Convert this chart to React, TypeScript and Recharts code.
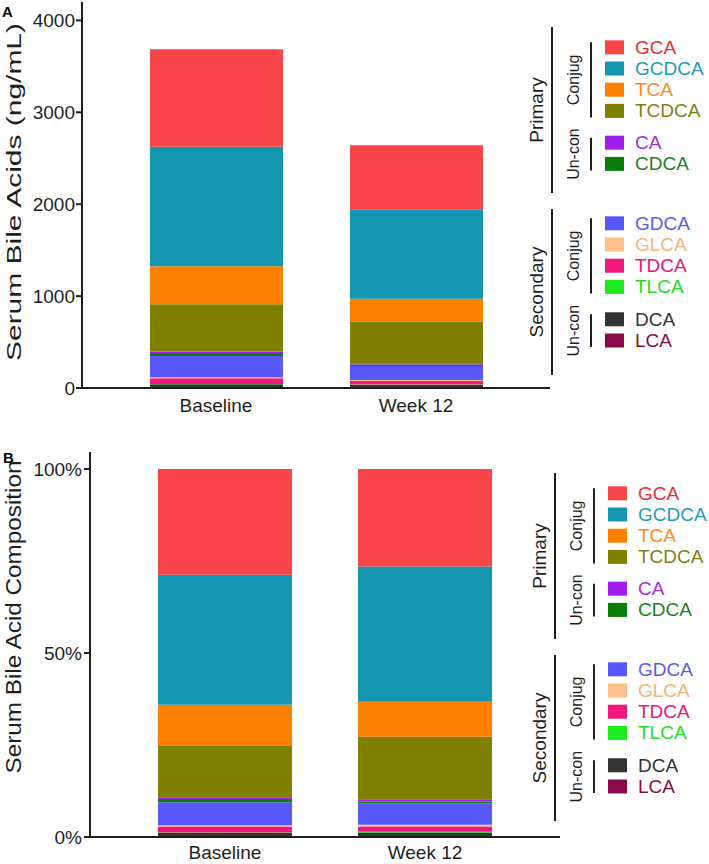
import React from 'react';
import { BarChart, Bar, XAxis, YAxis } from 'recharts';

// ---- data (ng/mL) ----
const categories = ['Baseline', 'Week 12'];
const GCA = [1060, 700];
const GCDCA = [1300, 970];
const TCA = [415, 250];
const TCDCA = [512, 450];
const CA = [18, 15];
const CDCA = [32, 15];
const GDCA = [230, 152];
const GLCA = [12, 13];
const TDCA = [62, 37];
const TLCA = [3, 5];
const DCA = [36, 28];
const LCA = [5, 5];

const absTicks = [0, 1000, 2000, 3000, 4000];
const pctTicks = [0, 0.5, 1];

// legend order (top to bottom), stacked bottom-up in reverse
const series = [
  { name: 'GCA', values: GCA, fill: '#F8454A', text: '#EE2A2F' },
  { name: 'GCDCA', values: GCDCA, fill: '#1496B1', text: '#1A9DBA' },
  { name: 'TCA', values: TCA, fill: '#FF8000', text: '#FF8A1A' },
  { name: 'TCDCA', values: TCDCA, fill: '#7F7F00', text: '#7F7F14' },
  { name: 'CA', values: CA, fill: '#A21EEB', text: '#A52BE0' },
  { name: 'CDCA', values: CDCA, fill: '#0A7D0A', text: '#1E7F1E' },
  { name: 'GDCA', values: GDCA, fill: '#5858FA', text: '#5A5AF0' },
  { name: 'GLCA', values: GLCA, fill: '#FCC08C', text: '#F7B27A' },
  { name: 'TDCA', values: TDCA, fill: '#F0187A', text: '#E8167A' },
  { name: 'TLCA', values: TLCA, fill: '#1EEB1E', text: '#22DD22' },
  { name: 'DCA', values: DCA, fill: '#333333', text: '#333333' },
  { name: 'LCA', values: LCA, fill: '#8B0A4B', text: '#8B0A40' },
];

const data = categories.map((c, i) => {
  const row: Record<string, any> = { category: c };
  series.forEach((s) => (row[s.name] = s.values[i]));
  return row;
});

const stackOrder = [...series].reverse();

const FONT = 'Liberation Sans, Arial, Helvetica, sans-serif';
const INK = '#1e1e1e';

const groups = [
  {
    label: 'Primary', top: 27, bottom: 193,
    subs: [
      { label: 'Conjug', names: ['GCA', 'GCDCA', 'TCA', 'TCDCA'], y0: 47.3 },
      { label: 'Un-con', names: ['CA', 'CDCA'], y0: 142.7 },
    ],
  },
  {
    label: 'Secondary', top: 209, bottom: 375,
    subs: [
      { label: 'Conjug', names: ['GDCA', 'GLCA', 'TDCA', 'TLCA'], y0: 223.3 },
      { label: 'Un-con', names: ['DCA', 'LCA'], y0: 319.3 },
    ],
  },
];

const STEP = 21.2;

function LegendBlock({ dx, dy }: { dx: number; dy: number }) {
  const els: any[] = [];
  groups.forEach((g, gi) => {
    const midG = (g.top + g.bottom) / 2 + dy;
    els.push(
      <line key={`gl${gi}`} x1={552 + dx} x2={552 + dx} y1={g.top + dy} y2={g.bottom + dy} stroke={INK} strokeWidth={2} />
    );
    els.push(
      <text key={`gt${gi}`} x={536 + dx} y={midG} transform={`rotate(-90 ${536 + dx} ${midG})`} textAnchor="middle"
        dominantBaseline="central" fontSize={19} fill={INK} fontFamily={FONT}>{g.label}</text>
    );
    g.subs.forEach((sub, si) => {
      const first = sub.y0 + dy;
      const last = sub.y0 + STEP * (sub.names.length - 1) + dy;
      const top = first - 5;
      const bot = last + 6.5;
      const mid = (top + bot) / 2;
      els.push(
        <line key={`sl${gi}${si}`} x1={591 + dx} x2={591 + dx} y1={top} y2={bot} stroke={INK} strokeWidth={2} />
      );
      els.push(
        <text key={`st${gi}${si}`} x={574 + dx} y={mid} transform={`rotate(-90 ${574 + dx} ${mid})`} textAnchor="middle"
          dominantBaseline="central" fontSize={16} fill={INK} fontFamily={FONT}>{sub.label}</text>
      );
      sub.names.forEach((n, ni) => {
        const s = series.find((q) => q.name === n)!;
        const cy = first + STEP * ni;
        els.push(<rect key={`r${n}${gi}`} x={605 + dx} y={cy - 7} width={19} height={14} fill={s.fill} />);
        els.push(
          <text key={`t${n}${gi}`} x={635 + dx} y={cy} dominantBaseline="central" fontSize={19} fill={s.text} fontFamily={FONT}>{n}</text>
        );
      });
    });
  });
  return <g>{els}</g>;
}

const tickStyle = { fontSize: 19, fill: INK, fontFamily: FONT };

export default function App() {
  return (
    <div style={{ position: 'absolute', left: 0, top: 0, width: 709, height: 864, background: '#fff', overflow: 'hidden' }}>
      <div style={{ position: 'absolute', left: 0, top: 0 }}>
        <BarChart width={709} height={430} data={data} margin={{ top: 2, right: 159, bottom: 0, left: 0 }}>
          <XAxis dataKey="category" height={42} padding={{ left: 34, right: 34 }} tickLine={false}
            axisLine={{ stroke: INK, strokeWidth: 2 }} tick={tickStyle} tickMargin={5} interval={0} />
          <YAxis width={82} domain={[0, 4200]} ticks={absTicks} allowDataOverflow
            axisLine={{ stroke: INK, strokeWidth: 2 }} tickLine={{ stroke: INK, strokeWidth: 2 }} tickSize={6}
            tickMargin={1} tick={tickStyle} interval={0} />
          {stackOrder.map((s) => (
            <Bar key={s.name} dataKey={s.name} stackId="a" fill={s.fill} barSize={133} isAnimationActive={false} />
          ))}
        </BarChart>
      </div>
      <div style={{ position: 'absolute', left: 0, top: 440 }}>
        <BarChart width={709} height={424} data={data} stackOffset="expand" margin={{ top: 29, right: 149, bottom: 0, left: 0 }}>
          <XAxis dataKey="category" height={27} padding={{ left: 35, right: 35 }} tickLine={false}
            axisLine={{ stroke: INK, strokeWidth: 2 }} tick={tickStyle} tickMargin={3} interval={0} />
          <YAxis width={90} domain={[0, 1]} ticks={pctTicks}
            tickFormatter={(v: number) => `${Math.round(v * 100)}%`}
            axisLine={{ stroke: INK, strokeWidth: 2 }} tickLine={{ stroke: INK, strokeWidth: 2 }} tickSize={6}
            tickMargin={2} tick={tickStyle} interval={0} />
          {stackOrder.map((s) => (
            <Bar key={s.name} dataKey={s.name} stackId="a" fill={s.fill} barSize={134} isAnimationActive={false} />
          ))}
        </BarChart>
      </div>
      <svg width={709} height={864} style={{ position: 'absolute', left: 0, top: 0, pointerEvents: 'none' }}>
        <line x1={90} x2={90} y1={452} y2={470} stroke={INK} strokeWidth={2} />
        <text x={2} y={17} fontSize={15} fontWeight="bold" fill="#000" fontFamily={FONT}>A</text>
        <text x={3} y={463} fontSize={15} fontWeight="bold" fill="#000" fontFamily={FONT}>B</text>
        <text x={13} y={192} transform="rotate(-90 13 192)" textAnchor="middle" dominantBaseline="central"
          fontSize={21} textLength={338} lengthAdjust="spacingAndGlyphs" fill={INK} fontFamily={FONT}>Serum Bile Acids (ng/mL)</text>
        <text x={13} y={617} transform="rotate(-90 13 617)" textAnchor="middle" dominantBaseline="central"
          fontSize={22} textLength={313} lengthAdjust="spacingAndGlyphs" fill={INK} fontFamily={FONT}>Serum Bile Acid Composition</text>
        <LegendBlock dx={0} dy={0} />
        <LegendBlock dx={3} dy={446} />
      </svg>
    </div>
  );
}
